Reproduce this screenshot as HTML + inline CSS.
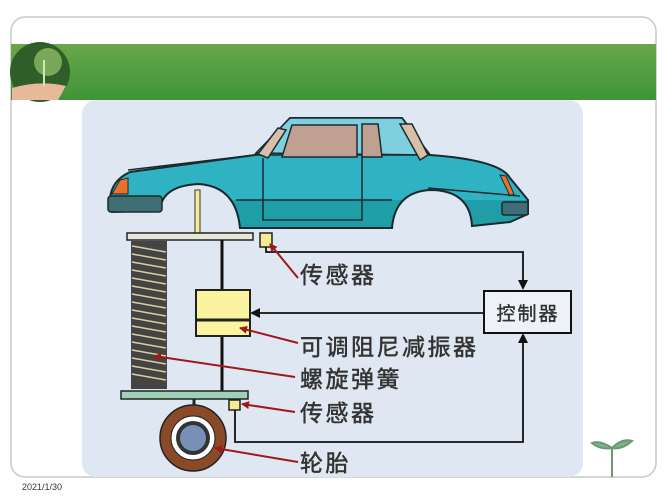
<!DOCTYPE html>
<html><head><meta charset="utf-8"><style>
html,body{margin:0;padding:0;background:#fff;}
body{width:667px;height:500px;position:relative;overflow:hidden;font-family:"Liberation Sans","Noto Sans CJK SC",sans-serif;}
</style></head><body>
<svg width="667" height="500" viewBox="0 0 667 500" xmlns="http://www.w3.org/2000/svg" style="position:absolute;left:0;top:0">
<defs>
<linearGradient id="g" x1="0" y1="0" x2="0" y2="1"><stop offset="0" stop-color="#6aa64a"/><stop offset="1" stop-color="#3f9438"/></linearGradient>
<marker id="ab" markerWidth="10" markerHeight="10" refX="8" refY="5" orient="auto" markerUnits="userSpaceOnUse"><path d="M0,0 L10,5 L0,10 z" fill="#111"/></marker>
<marker id="ar" markerWidth="8" markerHeight="8" refX="7" refY="4" orient="auto" markerUnits="userSpaceOnUse"><path d="M0,0 L8,4 L0,8 z" fill="#a01818"/></marker>
<clipPath id="cb"><path d="M110,198 Q112,180 130,172 L255,155 L290,118 L402,118 L430,155 Q500,160 510,178 L528,200 L528,214 L510,222 L472,226 Q470,190 430,190 Q395,192 392,228 L240,228 Q236,186 198,184 Q162,186 160,210 L112,212 z"/></clipPath>
</defs>
<rect x="11" y="17" width="645" height="460" rx="14" fill="#fff" stroke="#c8c8c8" stroke-width="1.5"/>
<rect x="11" y="44" width="645" height="56" fill="url(#g)"/>
<circle cx="40" cy="72" r="30" fill="#2f5e28"/>
<circle cx="48" cy="62" r="14" fill="#78a858"/>
<path d="M12,88 Q40,80 66,86 L58,100 L12,100z" fill="#e8b89a"/>
<line x1="44" y1="60" x2="44" y2="86" stroke="#cfe8b0" stroke-width="2"/>
<rect x="82" y="100" width="501" height="377" rx="14" fill="#dfe8f2"/>
<!-- car -->
<path d="M110,198 Q112,180 130,172 L255,155 L290,118 L402,118 L430,155 Q500,160 510,178 L528,200 L528,214 L510,222 L472,226 Q470,190 430,190 Q395,192 392,228 L240,228 Q236,186 198,184 Q162,186 160,210 L112,212 z" fill="#2fb3c2"/>
<rect x="100" y="200" width="440" height="40" fill="#1f9ea8" clip-path="url(#cb)"/>
<path d="M110,198 Q112,180 130,172 L255,155 L290,118 L402,118 L430,155 Q500,160 510,178 L528,200 L528,214 L510,222 L472,226 Q470,190 430,190 Q395,192 392,228 L240,228 Q236,186 198,184 Q162,186 160,210 L112,212 z" fill="none" stroke="#1a2a30" stroke-width="2"/>
<path d="M128,170 L255,155 L430,155 Q500,160 510,178" fill="none" stroke="#1a2a30" stroke-width="1.5"/>
<path d="M256,153 L290,118 L402,118 L430,155 z" fill="#7fd0de" stroke="#1a2a30" stroke-width="1.5"/>
<path d="M258,154 L278,128 L286,130 L268,158z" fill="#d8c0a8" stroke="#1a2a30" stroke-width="1.5"/>
<path d="M282,157 L292,125 L357,125 L357,157z" fill="#c0a090" stroke="#1a2a30" stroke-width="1.5"/>
<path d="M362,157 L362,124 L378,124 L382,157z" fill="#c0a090" stroke="#1a2a30" stroke-width="1.5"/>
<path d="M400,124 L412,124 L428,155 L420,160z" fill="#d8c0a8" stroke="#1a2a30" stroke-width="1.5"/>
<path d="M120,180 L128,178 L128,194 L112,194z" fill="#e8702a" stroke="#1a2a30"/>
<path d="M500,175 L506,176 L514,194 L510,196z" fill="#e8702a" stroke="#1a2a30"/>
<rect x="108" y="196" width="54" height="16" rx="3" fill="#3f6f74" stroke="#1a2a30" stroke-width="1.5"/>
<rect x="502" y="202" width="26" height="13" rx="2" fill="#3f6f74" stroke="#1a2a30" stroke-width="1.5"/>
<path d="M236,200 L392,200 M428,188 L520,196" stroke="#1a2a30" stroke-width="1.5" fill="none"/>
<path d="M263,158 L263,220 L362,220 L362,157" fill="none" stroke="#1a2a30" stroke-width="1.5"/>
<!-- suspension -->
<rect x="195" y="190" width="5" height="45" fill="#f4ec90" stroke="#333"/>
<rect x="127" y="233" width="126" height="7" fill="#e8e8d8" stroke="#222" stroke-width="1.5"/>
<rect x="131" y="241" width="36" height="148" fill="#444"/>
<g stroke="#d8d0a0" stroke-width="1.5">
<path d="M132,246 L166,252 M132,254 L166,260 M132,262 L166,268 M132,270 L166,276 M132,278 L166,284 M132,286 L166,292 M132,294 L166,300 M132,302 L166,308 M132,310 L166,316 M132,318 L166,324 M132,326 L166,332 M132,334 L166,340 M132,342 L166,348 M132,350 L166,356 M132,358 L166,364 M132,366 L166,372 M132,374 L166,380"/>
</g>
<line x1="222" y1="240" x2="222" y2="392" stroke="#111" stroke-width="3"/>
<rect x="196" y="290" width="54" height="46" fill="#fbf3a0" stroke="#222" stroke-width="2"/>
<line x1="196" y1="320" x2="250" y2="320" stroke="#222" stroke-width="3"/>
<rect x="121" y="391" width="127" height="8" fill="#9fd0b8" stroke="#222" stroke-width="1.5"/>
<line x1="194" y1="399" x2="194" y2="406" stroke="#222" stroke-width="3"/>
<circle cx="193" cy="438" r="33" fill="#8a4a28" stroke="#222" stroke-width="1.5"/>
<circle cx="193" cy="438" r="22" fill="#fff" stroke="#222"/>
<circle cx="193" cy="438" r="17" fill="#333"/>
<circle cx="193" cy="438" r="13" fill="#7890b8"/>
<rect x="260" y="233" width="12" height="14" fill="#f4ec90" stroke="#222" stroke-width="1.5"/>
<rect x="229" y="400" width="11" height="10" fill="#f4ec90" stroke="#222" stroke-width="1.5"/>
<!-- connectors -->
<path d="M266,247 L266,252 L523,252 L523,288" fill="none" stroke="#111" stroke-width="1.8" marker-end="url(#ab)"/>
<path d="M235,410 L235,442 L523,442 L523,335" fill="none" stroke="#111" stroke-width="1.8" marker-end="url(#ab)"/>
<path d="M484,313 L252,313" fill="none" stroke="#111" stroke-width="1.8" marker-end="url(#ab)"/>
<rect x="484" y="291" width="87" height="42" fill="#eef2f8" stroke="#111" stroke-width="2"/>
<text x="528" y="320" font-size="19" letter-spacing="2" text-anchor="middle" fill="#333" stroke="#333" stroke-width="0.4">控制器</text>
<!-- red leaders -->
<g stroke="#a01818" stroke-width="2" fill="none">
<path d="M298,278 L270,244" marker-end="url(#ar)"/>
<path d="M298,343 L240,328" marker-end="url(#ar)"/>
<path d="M295,377 L154,356" marker-end="url(#ar)"/>
<path d="M295,412 L242,404" marker-end="url(#ar)"/>
<path d="M298,462 L215,448" marker-end="url(#ar)"/>
</g>
<g font-size="23" fill="#333" stroke="#333" stroke-width="0.5" letter-spacing="2.5">
<text x="300" y="283">传感器</text>
<text x="300" y="355">可调阻尼减振器</text>
<text x="300" y="387">螺旋弹簧</text>
<text x="300" y="421">传感器</text>
<text x="300" y="471">轮胎</text>
</g>
<path d="M612,477 L612,448 M612,448 Q600,440 592,443 Q600,450 612,448 M612,448 Q622,438 632,441 Q622,450 612,448" stroke="#6a9a70" stroke-width="2" fill="#7fb090"/>
<text x="22" y="490" font-size="9" fill="#333">2021/1/30</text>
</svg>
</body></html>
